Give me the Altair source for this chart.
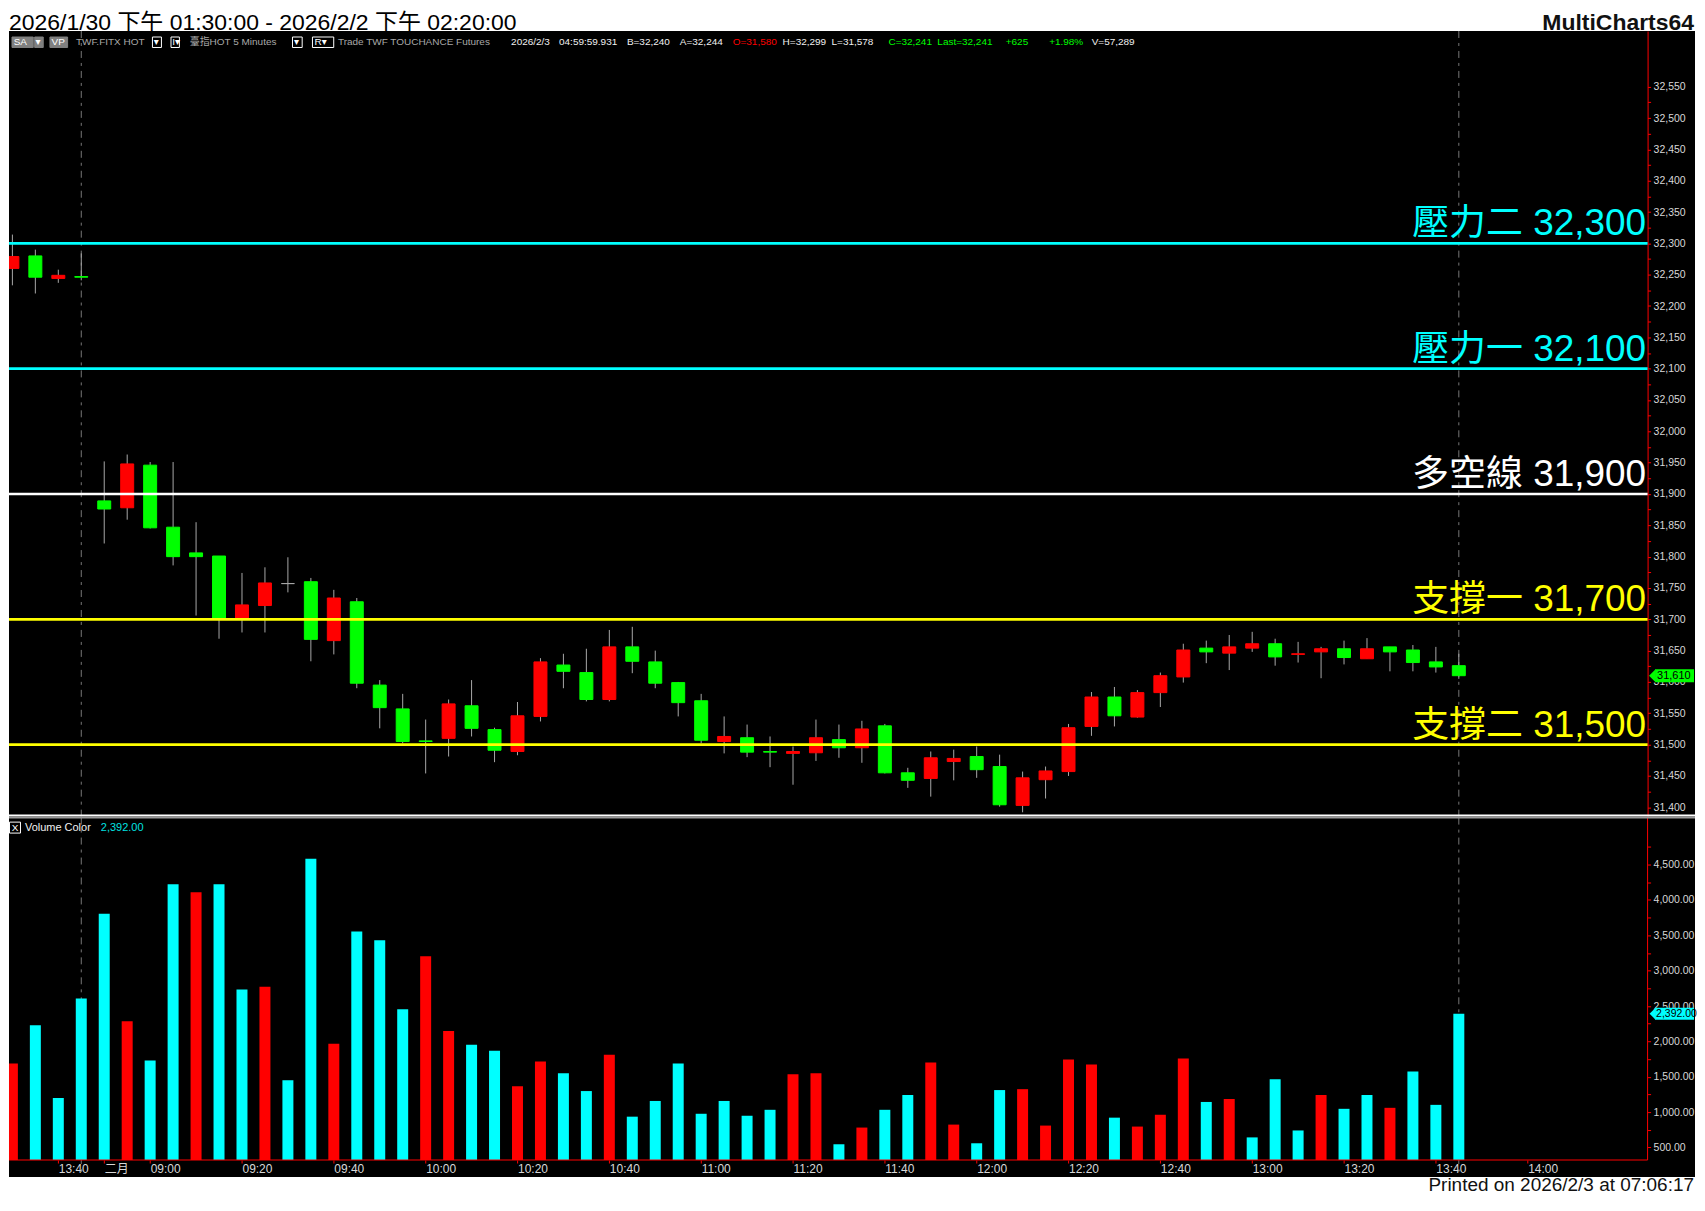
import json
import pandas as pd
import altair as alt

# ---------------- data ----------------
bar_index = list(range(64))
bar_open = [32260, 32280, 32244, 32247, 31889, 31878, 31946, 31847, 31806, 31801,
            31700, 31722, 31757, 31760, 31666, 31728, 31595, 31557, 31506, 31510,
            31562, 31524, 31489, 31545, 31627, 31615, 31572, 31656, 31632, 31599,
            31570, 31505, 31511, 31489, 31486, 31487, 31508, 31495, 31530, 31455,
            31446, 31473, 31481, 31465, 31403, 31444, 31457, 31529, 31576, 31544,
            31583, 31608, 31654, 31646, 31654, 31661, 31644, 31648, 31653, 31637,
            31656, 31651, 31632, 31626]
bar_high = [32314, 32290, 32258, 32284, 31952, 31963, 31951, 31951, 31855, 31801,
            31774, 31783, 31799, 31766, 31747, 31734, 31603, 31581, 31540, 31572,
            31603, 31527, 31568, 31638, 31645, 31653, 31683, 31688, 31650, 31600,
            31581, 31545, 31532, 31513, 31497, 31540, 31532, 31538, 31533, 31463,
            31489, 31492, 31497, 31484, 31457, 31465, 31533, 31584, 31592, 31587,
            31615, 31661, 31666, 31675, 31680, 31669, 31664, 31656, 31666, 31670,
            31656, 31659, 31656, 31645]
bar_low = [32233, 32220, 32237, 32241, 31821, 31859, 31845, 31786, 31706, 31669,
           31679, 31679, 31743, 31633, 31644, 31590, 31526, 31502, 31454, 31481,
           31513, 31472, 31483, 31537, 31590, 31569, 31569, 31614, 31590, 31545,
           31502, 31486, 31480, 31464, 31436, 31474, 31479, 31471, 31454, 31431,
           31417, 31443, 31447, 31401, 31392, 31414, 31450, 31514, 31529, 31543,
           31560, 31599, 31630, 31619, 31648, 31626, 31631, 31606, 31628, 31637,
           31617, 31617, 31615, 31605]
bar_close = [32279, 32246, 32249, 32246, 31876, 31948, 31846, 31800, 31800, 31700,
             31723, 31758, 31757, 31668, 31734, 31598, 31559, 31505, 31505, 31565,
             31526, 31491, 31546, 31632, 31617, 31572, 31656, 31633, 31598, 31567,
             31507, 31513, 31488, 31488, 31489, 31511, 31495, 31525, 31455, 31443,
             31479, 31478, 31460, 31404, 31447, 31458, 31527, 31576, 31546, 31583,
             31610, 31651, 31648, 31656, 31661, 31640, 31645, 31653, 31639, 31653,
             31648, 31631, 31624, 31610]
volumes = [1687, 2230, 1200, 2606, 3804, 2286, 1729, 4221, 4110, 4221,
           2732, 2773, 1451, 4583, 1966, 3553, 3428, 2453, 3205, 2147,
           1952, 1868, 1367, 1715, 1548, 1298, 1813, 936, 1158, 1687,
           977, 1158, 949, 1033, 1534, 1548, 546, 782, 1033, 1242,
           1701, 824, 560, 1312, 1325, 810, 1743, 1673, 922, 796,
           963, 1757, 1144, 1186, 643, 1465, 741, 1242, 1047, 1242,
           1061, 1576, 1103, 2392]
vol_colors = ["R", "C", "C", "C", "C", "R", "C", "C", "R", "C",
              "C", "R", "C", "C", "R", "C", "C", "C", "R", "R",
              "C", "C", "R", "R", "C", "C", "R", "C", "C", "C",
              "C", "C", "C", "C", "R", "R", "C", "R", "C", "C",
              "R", "R", "C", "C", "R", "R", "R", "R", "C", "R",
              "R", "R", "C", "R", "C", "C", "C", "R", "C", "C",
              "R", "C", "C", "C"]
tick_bars = [2, 4, 6, 10, 14, 18, 22, 26, 30, 34, 38, 42, 46, 50, 54, 58, 62, 66]
tick_labels = ["13:40", "二月", "09:00", "09:20", "09:40", "10:00", "10:20", "10:40",
               "11:00", "11:20", "11:40", "12:00", "12:20", "12:40", "13:00",
               "13:20", "13:40", "14:00"]
level_values = [32300, 32100, 31900, 31700, 31500]
level_names = ["壓力二", "壓力一", "多空線", "支撐一", "支撐二"]
session_break_bars = [3, 63]
last_price = 31610
last_volume = 2392
price_ticks = list(range(31400, 32551, 25))
vol_ticks = list(range(500, 4751, 250))
title_text = "2026/1/30 下午 01:30:00 - 2026/2/2 下午 02:20:00"
brand_text = "MultiCharts64"
footer_text = "Printed on 2026/2/3 at 07:06:17"
toolbar_texts = ["SA", "▾", "VP", "TWF.FITX HOT", "▾", "I▾", "臺指HOT  5 Minutes", "▾", "R▾",
                 "Trade  TWF  TOUCHANCE  Futures", "2026/2/3", "04:59:59.931", "B=32,240",
                 "A=32,244", "O=31,580", "H=32,299", "L=31,578", "C=32,241", "Last=32,241",
                 "+625", "+1.98%", "V=57,289"]

# ---------------- layout / style ----------------
FONT = "Liberation Sans, Noto Sans CJK TC, DejaVu Sans"
RED, GREEN, CYAN, YELLOW = "#FF0000", "#00FF00", "#00FFFF", "#FFFF00"
WICK = "#a8a8a8"
AXIS_LABEL = "#d8d8d8"
level_colors = [CYAN, CYAN, "#FFFFFF", YELLOW, YELLOW]

BAR_PX = 23.0
W = 1689
H_HEAD, H_PRICE, H_VOL, H_FOOT = 22, 788, 360, 18
X0 = -3.4 / BAR_PX
X1 = X0 + W / BAR_PX


def pb(page_x):
    return (page_x - 11.4) / BAR_PX


AXIS_PAGE_X = 1649.5
AXIS_BAR = pb(AXIS_PAGE_X)
AXIS_OFFSET = -(W - (AXIS_PAGE_X - 8))
PX_PER_PT = 0.6277
PRICE_DOM = [31383.5, 32638.9]
SEP_PRICE = 31386.7
PX_PER_VOL = 0.07087
VOL_DOM = [83.5, 5163.2]
VOL_BASE = 323.4
X_AXIS_LIFT = 17

toolbar_x = [12.7, 34.5, 50.7, 75, 153, 171.5, 189, 293.5, 314, 337.5, 511, 559, 627, 680,
             733, 783, 832, 889, 938, 1006.5, 1050, 1092.6]
toolbar_col = ["#ffffff", "#ffffff", "#ffffff", "#a8a8a8", "#ffffff", "#ffffff", "#a8a8a8",
               "#ffffff", "#ffffff", "#a8a8a8", "#f0f0f0", "#f0f0f0", "#f0f0f0", "#f0f0f0",
               RED, "#f0f0f0", "#f0f0f0", GREEN, GREEN, GREEN, GREEN, "#f0f0f0"]
tb_box_x1 = [11, 33.7, 49, 151.7, 170.3, 292, 312]
tb_box_x2 = [32.3, 42.3, 66.7, 160.7, 178.7, 301.7, 333.3]
tb_box_fill = ["#808080", "#808080", "#808080", "#000000", "#000000", "#000000", "#000000"]
tb_box_stroke = ["#808080", "#808080", "#808080", "#ffffff", "#ffffff", "#ffffff", "#ffffff"]

# ---------------- tables ----------------
cdf = pd.DataFrame({"bar": bar_index, "open": bar_open, "high": bar_high,
                    "low": bar_low, "close": bar_close})
cdf["dir"] = ["up" if c > o else ("down" if c < o else "flat")
              for o, c in zip(bar_open, bar_close)]
vdf = pd.DataFrame({"bar": bar_index, "vol": volumes, "vc": vol_colors})
ldf = pd.DataFrame({"idx": list(range(len(level_values))), "level": level_values,
                    "label": [f"{n} {v:,}" for n, v in zip(level_names, level_values)]})
bdf = pd.DataFrame({"bar": session_break_bars})
one = pd.DataFrame({"k": [0]})
tb_txt_df = pd.DataFrame({"t": toolbar_texts, "x": [pb(v) for v in toolbar_x], "c": toolbar_col})
tb_box_df = pd.DataFrame({"x1": [pb(v) for v in tb_box_x1], "x2": [pb(v) for v in tb_box_x2],
                          "f": tb_box_fill, "s": tb_box_stroke})

lab_arr = [""] * 80
for b, l in zip(tick_bars, tick_labels):
    lab_arr[b] = l
x_label_expr = json.dumps(lab_arr, ensure_ascii=False) + "[datum.value]"

# ---------------- scales / axes ----------------
xs = alt.Scale(domain=[X0, X1], nice=False, zero=False, padding=0)
ys = alt.Scale(domain=PRICE_DOM, nice=False, zero=False, padding=0)
vys = alt.Scale(domain=VOL_DOM, nice=False, zero=False, padding=0)

p_axis = alt.Axis(orient="right", offset=AXIS_OFFSET, values=price_ticks,
                  labelExpr="datum.value % 50 == 0 ? format(datum.value, ',') : ''",
                  domainColor=RED, domainWidth=1, tickColor=RED, tickSize=3,
                  labelColor=AXIS_LABEL, labelFontSize=10.5, labelFont=FONT, labelPadding=2.5,
                  grid=False, labelOverlap=False, labelFlush=False)
vy_axis = alt.Axis(orient="right", offset=AXIS_OFFSET, values=vol_ticks,
                   labelExpr="datum.value % 500 == 0 ? format(datum.value, ',.2f') : ''",
                   domain=False, tickColor=RED, tickSize=3,
                   labelColor=AXIS_LABEL, labelFontSize=10.5, labelFont=FONT, labelPadding=2.5,
                   grid=False, labelOverlap=False, labelFlush=False)
vx_axis = alt.Axis(orient="bottom", offset=-X_AXIS_LIFT, values=tick_bars,
                   labelExpr=x_label_expr, domain=False, tickColor=RED, tickSize=3,
                   labelAlign="left", labelBaseline="top", labelPadding=1,
                   labelColor=AXIS_LABEL, labelFontSize=12, labelFont=FONT, grid=False,
                   labelOverlap=False, labelFlush=False)


def PX(f):
    return alt.X(f, type="quantitative", scale=xs, axis=None, title=None)


def PXd(v):
    return alt.XDatum(v, scale=xs, axis=None)


def PY(f):
    return alt.Y(f, type="quantitative", scale=ys, axis=p_axis, title=None)


def PYd(v):
    return alt.YDatum(v, scale=ys, axis=p_axis)


def VX(f):
    return alt.X(f, type="quantitative", scale=xs, axis=vx_axis, title=None)


def VXd(v):
    return alt.XDatum(v, scale=xs, axis=vx_axis)


def VY(f):
    return alt.Y(f, type="quantitative", scale=vys, axis=vy_axis, title=None)


def VYd(v):
    return alt.YDatum(v, scale=vys, axis=vy_axis)


DASH = [7, 5, 3, 5]
TRI = "M 0 -1 L -1 0 L 0 1 Z"

# ---------------- header ----------------
header = alt.layer(
    alt.Chart(one).mark_text(text=title_text, align="left", baseline="alphabetic",
                             fontSize=23, font=FONT, color="black")
    .encode(x=alt.value(0), y=alt.value(21)),
    alt.Chart(one).mark_text(text=brand_text, align="right", baseline="alphabetic",
                             fontSize=23, fontWeight="bold", font=FONT, color="#111111")
    .encode(x=alt.value(W - 1), y=alt.value(20.5)),
).properties(width=W, height=H_HEAD,
             view=alt.ViewBackground(fill="white", stroke="white", strokeWidth=0))

# ---------------- price panel ----------------
p_layers = []
p_layers.append(alt.Chart(bdf).mark_rule(color="#777777", strokeWidth=1, strokeDash=DASH)
                .encode(x=PX("bar")))
p_layers.append(alt.Chart(cdf).mark_rule(color=WICK, strokeWidth=1, clip=True)
                .encode(x=PX("bar"), y=PY("low"), y2="high"))
for d, col in [("up", RED), ("down", GREEN), ("flat", WICK)]:
    p_layers.append(alt.Chart(cdf).transform_filter(alt.datum.dir == d)
                    .mark_bar(size=13, color=col, stroke=col, strokeWidth=1, clip=True)
                    .encode(x=PX("bar"), y=PY("open"), y2="close"))
for i, col in enumerate(level_colors):
    p_layers.append(alt.Chart(ldf).transform_filter(alt.datum.idx == i)
                    .mark_rule(color=col, strokeWidth=2.7, clip=True)
                    .encode(x=PXd(X0), x2=alt.X2Datum(AXIS_BAR), y=PY("level")))
    p_layers.append(alt.Chart(ldf).transform_filter(alt.datum.idx == i)
                    .mark_text(color=col, fontSize=37, font=FONT, align="right",
                               baseline="alphabetic", dy=-8)
                    .encode(x=PXd(pb(1648)), y=PY("level"), text="label:N"))
p_layers.append(alt.Chart(one).mark_rule(color="white", strokeWidth=2).encode(y=PYd(SEP_PRICE)))
half_p = 6.5 / PX_PER_PT
p_layers.append(alt.Chart(one).mark_rect(color=GREEN)
                .encode(x=PXd(pb(1657)), x2=alt.X2Datum(pb(1696)),
                        y=PYd(last_price + half_p), y2=alt.Y2Datum(last_price - half_p)))
p_layers.append(alt.Chart(one).mark_point(shape=TRI, size=169, filled=True, color=GREEN,
                                          opacity=1, strokeWidth=0)
                .encode(x=PXd(pb(1657.5)), y=PYd(last_price)))
p_layers.append(alt.Chart(one).mark_text(text=f"{last_price:,}", color="black", fontSize=11,
                                         font=FONT, align="left", baseline="middle")
                .encode(x=PXd(pb(1659)), y=PYd(last_price)))
p_layers.append(alt.Chart(tb_box_df).mark_rect(strokeWidth=1)
                .encode(x=PX("x1"), x2="x2", y=alt.value(6), y2=alt.value(16.5),
                        fill=alt.Fill("f:N", scale=None), stroke=alt.Stroke("s:N", scale=None)))
p_layers.append(alt.Chart(tb_txt_df).mark_text(fontSize=10, font=FONT, align="left",
                                               baseline="middle")
                .encode(x=PX("x"), y=alt.value(11), text="t:N",
                        color=alt.Color("c:N", scale=None)))
price = alt.layer(*p_layers).properties(width=W, height=H_PRICE)

# ---------------- volume panel ----------------
v_layers = []
v_layers.append(alt.Chart(bdf).mark_rule(color="#777777", strokeWidth=1, strokeDash=DASH)
                .encode(x=VX("bar")))
for code, col in [("R", RED), ("C", CYAN)]:
    v_layers.append(alt.Chart(vdf).transform_filter(alt.datum.vc == code)
                    .mark_bar(size=11, color=col, clip=True)
                    .encode(x=VX("bar"), y=VY("vol"), y2=alt.Y2Datum(VOL_BASE)))
v_layers.append(alt.Chart(one).mark_rule(color=RED, strokeWidth=1)
                .encode(x=VXd(X0), x2=alt.X2Datum(AXIS_BAR), y=VYd(VOL_BASE)))
v_layers.append(alt.Chart(one).mark_rule(color=RED, strokeWidth=1)
                .encode(x=VXd(AXIS_BAR), y=VYd(VOL_BASE), y2=alt.Y2Datum(VOL_DOM[1])))
v_layers.append(alt.Chart(one).mark_rule(color="#9a9a9a", strokeWidth=2)
                .encode(y=VYd(VOL_DOM[1])))
half_v = 6.0 / PX_PER_VOL
v_layers.append(alt.Chart(one).mark_rect(color=CYAN)
                .encode(x=VXd(pb(1657)), x2=alt.X2Datum(pb(1696)),
                        y=VYd(last_volume + half_v), y2=alt.Y2Datum(last_volume - half_v)))
v_layers.append(alt.Chart(one).mark_point(shape=TRI, size=144, filled=True, color=CYAN,
                                          opacity=1, strokeWidth=0)
                .encode(x=VXd(pb(1657.5)), y=VYd(last_volume)))
v_layers.append(alt.Chart(one).mark_text(text=f"{last_volume:,.2f}", color="black",
                                         fontSize=10.5, font=FONT, align="left",
                                         baseline="middle")
                .encode(x=VXd(pb(1658)), y=VYd(last_volume)))
v_layers.append(alt.Chart(one).mark_rect(fillOpacity=0, stroke="white", strokeWidth=1)
                .encode(x=VXd(pb(8.5)), x2=alt.X2Datum(pb(19.5)),
                        y=alt.value(4.5), y2=alt.value(15.5)))
v_layers.append(alt.Chart(one).mark_text(text="X", color="white", fontSize=10, font=FONT,
                                         align="center", baseline="middle")
                .encode(x=VXd(pb(14)), y=alt.value(10.5)))
v_layers.append(alt.Chart(one).mark_text(text="Volume Color", color="#f0f0f0", fontSize=11,
                                         font=FONT, align="left", baseline="middle")
                .encode(x=VXd(pb(24)), y=alt.value(10.5)))
v_layers.append(alt.Chart(one).mark_text(text=f"{last_volume:,.2f}", color="#00e0e0",
                                         fontSize=11, font=FONT, align="left",
                                         baseline="middle")
                .encode(x=VXd(pb(100)), y=alt.value(10.5)))
volume = alt.layer(*v_layers).properties(width=W, height=H_VOL)

# ---------------- footer ----------------
footer = alt.Chart(one).mark_text(text=footer_text, align="right", baseline="alphabetic",
                                  fontSize=19, font=FONT, color="#111111") \
    .encode(x=alt.value(W - 1), y=alt.value(14.5)) \
    .properties(width=W, height=H_FOOT,
                view=alt.ViewBackground(fill="white", stroke="white", strokeWidth=0))

chart = alt.vconcat(header, price, volume, footer, spacing=0, bounds="flush",
                    padding=0, background="white") \
    .configure_view(fill="black", stroke="black", strokeWidth=0) \
    .configure_concat(spacing=0)

chart.save("out.html", embed_options={"renderer": "svg", "actions": False})
